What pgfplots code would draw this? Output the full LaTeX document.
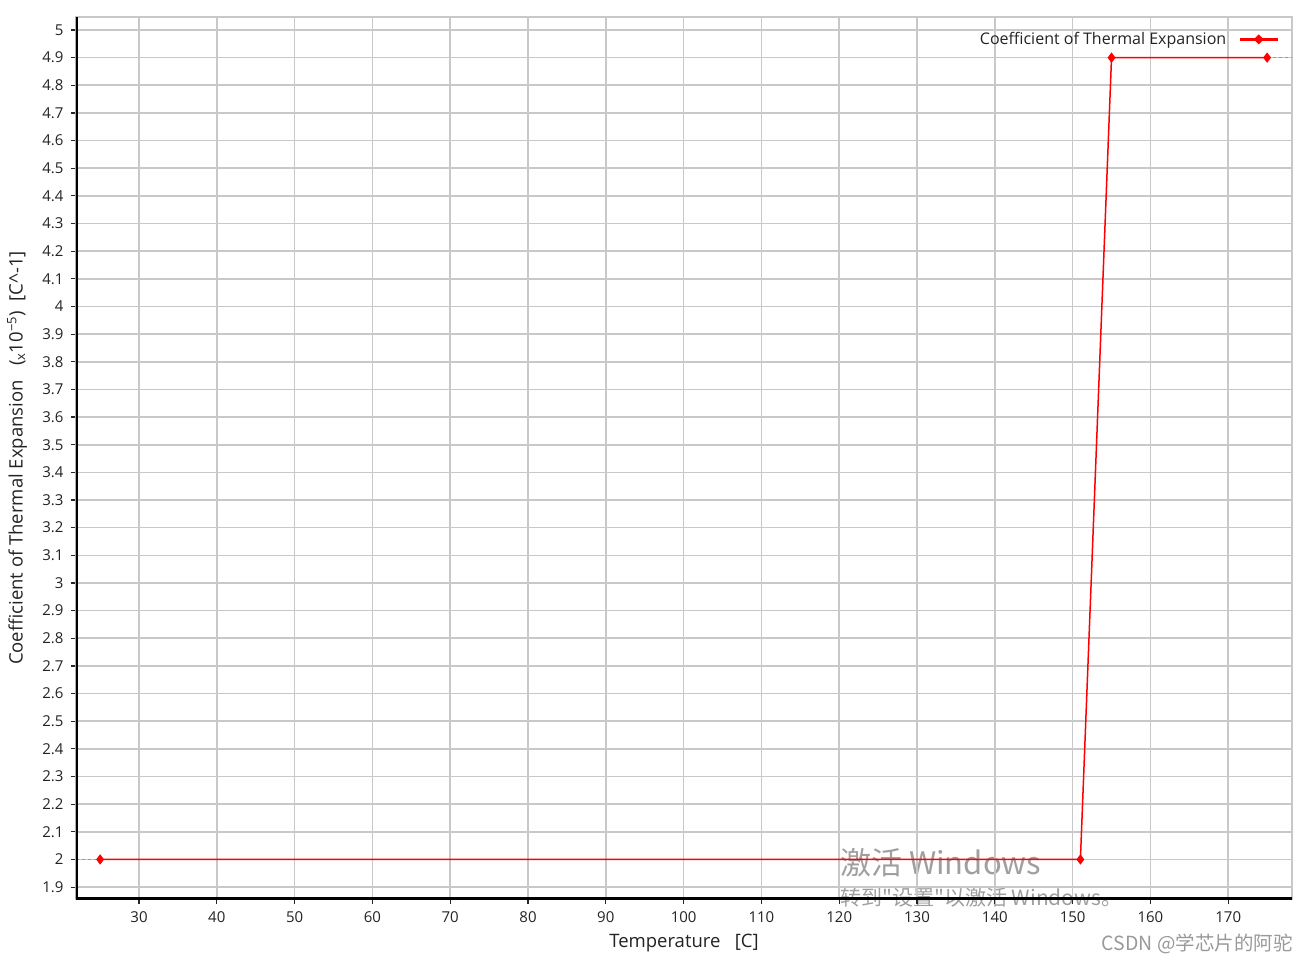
\documentclass[border=0pt]{standalone}
\usepackage{pgfplots}
\pgfplotsset{compat=1.18}
\usepackage{fontspec}
\setmainfont{Open Sans}
\newfontfamily\cjk{Noto Sans CJK SC}
\definecolor{gridc}{RGB}{200,200,200}
\definecolor{txt}{RGB}{35,35,35}
\begin{document}
\begin{tikzpicture}
\useasboundingbox (0,0) rectangle (1309pt,964pt);
\node[anchor=west, text=gray!75, font=\cjk\fontsize{31}{35}\selectfont, inner sep=0pt] at (840pt,101pt) {激活 Windows};
\node[anchor=west, text=gray!75, font=\cjk\fontsize{21}{25}\selectfont, inner sep=0pt] at (840pt,66pt) {转到"设置"以激活 Windows。};
\node[anchor=east, text=gray!80, font=\cjk\fontsize{19.5}{22}\selectfont, inner sep=0pt] at (1293pt,20pt) {CSDN @学芯片的阿驼};
\begin{axis}[
  at={(76pt,65pt)}, anchor=south west, scale only axis,
  width=1216pt, height=882pt,
  xmin=21.9, xmax=178.2, ymin=1.857, ymax=5.047,
  xtick={30,40,50,60,70,80,90,100,110,120,130,140,150,160,170},
  ytick={1.9,2,2.1,2.2,2.3,2.4,2.5,2.6,2.7,2.8,2.9,3,3.1,3.2,3.3,3.4,3.5,3.6,3.7,3.8,3.9,4,4.1,4.2,4.3,4.4,4.5,4.6,4.7,4.8,4.9,5},
  grid=major, major grid style={color=gridc, line width=1.6pt},
  axis line style={gridc, line width=1.6pt},
  tick style={black!85, line width=1.2pt}, tick align=outside, major tick length=5pt,
  xtick pos=bottom, ytick pos=left,
  ticklabel style={font=\fontsize{15}{17}\selectfont, text=txt},
  yticklabel style={xshift=-4pt},
  xticklabel style={yshift=-4pt},
  /pgf/number format/assume math mode=true,
  xlabel={Temperature\ \ \ [C]},
  ylabel={Coefficient of Thermal Expansion\ \ \ (\textsubscript{x}10\textsuperscript{−5})\ \ [C\^{}-1]},
  label style={font=\fontsize{18.5}{21}\selectfont, text=txt},
  xlabel style={at={(axis description cs:0.5,-0.0499)}, anchor=center},
  ylabel style={at={(axis description cs:-0.0485,0.5)}, anchor=center},
  legend style={draw=none, fill=none, at={(axis description cs:0.9905,0.986)}, anchor=north east,
    font=\fontsize{16}{18}\selectfont, text=txt, inner sep=1pt,
    /tikz/every odd column/.style={column sep=10pt}},
  legend plot pos=right,
  legend image code/.code={
    \draw[red, line width=3pt] (0pt,0pt) -- (38pt,0pt);
    \fill[red] (19pt,4pt) -- (23pt,0pt) -- (19pt,-4pt) -- (15pt,0pt) -- cycle;
  },
]
\addplot[blue!45, dashed, line width=1.4pt, forget plot] coordinates {(21.9,2) (25,2)};
\addplot[blue!45, dashed, line width=1.4pt, forget plot] coordinates {(175,4.9) (178.2,4.9)};
\addplot[red, line width=1.5pt, mark=diamond*, mark size=4pt, mark options={solid, fill=red}]
  coordinates {(25,2) (151,2) (155,4.9) (175,4.9)};
\addlegendentry{Coefficient of Thermal Expansion}
\draw[black, line width=4pt] (rel axis cs:0,0) -- (rel axis cs:0,1);
\draw[black, line width=4pt] (rel axis cs:0,0) -- (rel axis cs:1,0);
\end{axis}
\end{tikzpicture}
\end{document}
